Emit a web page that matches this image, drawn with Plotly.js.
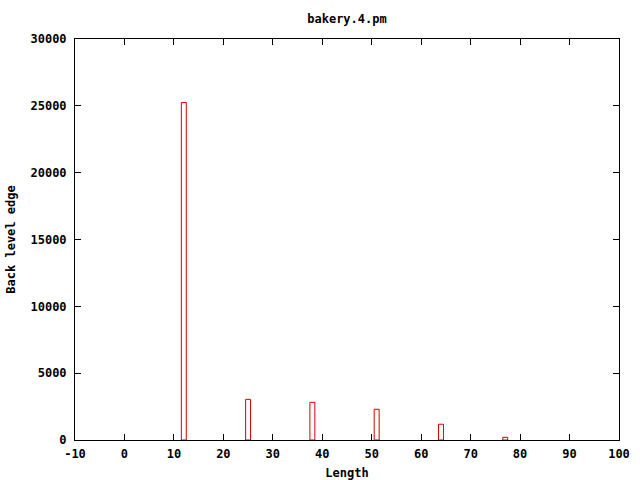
<!DOCTYPE html>
<html>
<head>
<meta charset="utf-8">
<script src="https://cdn.plot.ly/plotly-3.0.1.min.js"></script>
<style>html,body{margin:0;padding:0;background:#fff;}#chart{width:640px;height:480px;}</style>
</head>
<body>
<div id="chart"></div>
<script>
const lengths = [12, 25, 38, 51, 64, 77];
const counts = [25250, 3040, 2820, 2300, 1180, 200];
const xTicks = [-10, 0, 10, 20, 30, 40, 50, 60, 70, 80, 90, 100];
const yTicks = [0, 5000, 10000, 15000, 20000, 25000, 30000];

const fnt = {family: 'DejaVu Sans Mono, monospace', size: 12, color: '#000', weight: 'bold'};

Plotly.newPlot('chart', [{
  type: 'bar',
  x: lengths,
  y: counts,
  width: 1,
  marker: {color: 'rgba(255,255,255,0)', line: {color: '#d40000', width: 1}},
  hoverinfo: 'x+y'
}], {
  width: 640, height: 480,
  margin: {l: 75, r: 21, t: 39, b: 40},
  paper_bgcolor: '#fff', plot_bgcolor: '#fff',
  font: fnt,
  showlegend: false,
  title: {text: 'bakery.4.pm', font: fnt, x: 0.5, xref: 'paper', y: 1 - 19/480, yanchor: 'middle'},
  xaxis: {
    range: [-10, 100], tickvals: xTicks, ticktext: xTicks.map(String),
    ticks: 'inside', ticklen: 6, tickcolor: '#000', mirror: 'ticks',
    showline: true, linecolor: '#000', linewidth: 1, showgrid: false, zeroline: false,
    ticklabelstandoff: 3,
    tickfont: fnt, title: {text: 'Length', font: fnt, standoff: 10}
  },
  yaxis: {
    range: [0, 30000], tickvals: yTicks, ticktext: yTicks.map(String),
    ticks: 'inside', ticklen: 6, tickcolor: '#000', mirror: 'ticks',
    showline: true, linecolor: '#000', linewidth: 1, showgrid: false, zeroline: false,
    ticklabelstandoff: 5,
    tickfont: fnt, title: {text: 'Back level edge', font: fnt, standoff: 12}
  }
}, {displayModeBar: false, staticPlot: true});
</script>
</body>
</html>
